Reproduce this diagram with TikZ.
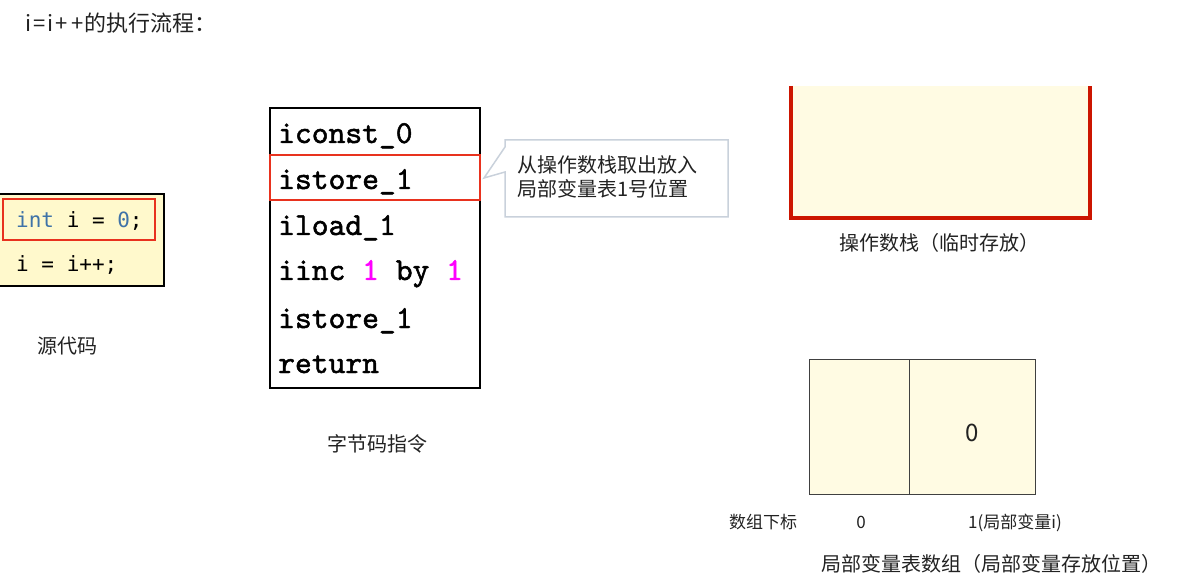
\documentclass[tikz,border=0pt]{standalone}
\usepackage{fontspec}
\setmainfont{Noto Sans CJK SC}
\newfontfamily\codefont{DejaVu Sans Mono}
\newfontfamily\bytefont{lmmono10-regular.otf}[FakeBold=1.5]
\usetikzlibrary{positioning}
\definecolor{codeYellow}{HTML}{FFF9CC}
\definecolor{paleYellow}{HTML}{FFFBE3}
\definecolor{hlRed}{HTML}{E8321E}
\definecolor{stackRed}{HTML}{CC1500}
\definecolor{kwBlue}{HTML}{3F73A8}
\definecolor{numPink}{HTML}{FF00FF}
\definecolor{noteGray}{HTML}{C9D1DB}
\definecolor{cellGray}{HTML}{404040}
\definecolor{textInk}{HTML}{222222}

\begin{document}
\begin{tikzpicture}[x=1pt,y=-1pt,
  lbl/.style={anchor=base,inner sep=0pt,text=textInk,font=\fontsize{20}{24}\selectfont},
  bc/.style={anchor=base west,inner sep=0pt,font=\bytefont\fontsize{32}{36}\selectfont},
  src/.style={anchor=base west,inner sep=0pt,font=\codefont\fontsize{21}{24}\selectfont},
  hl/.style={draw=hlRed,line width=1.8pt,inner sep=0pt},
  cell/.style={draw=cellGray,fill=paleYellow,line width=0.9pt,inner sep=0pt,minimum height=135pt}
]
  \useasboundingbox (0,0) rectangle (1178,585);

  \node[anchor=base west,inner sep=0pt,text=textInk,font=\fontsize{22}{26}\selectfont] (title) at (25,32)
    {i\hspace{2pt}=\hspace{2pt}i\hspace{2pt}+\hspace{4pt}+\hspace{1pt}的执行流程：};

  % source code
  \node[draw=black,fill=codeYellow,line width=1.2pt,minimum width=167pt,minimum height=92pt,inner sep=0pt] (srcbox) at (80.5,240) {};
  \node[hl,minimum width=152pt,minimum height=41pt] (srcmark) at (79,219.5) {};
  \node[src] (line1) at (16,228) {\textcolor{kwBlue}{int} i = \textcolor{kwBlue}{0};};
  \node[src] (line2) at (16,272) {i = i++;};
  \node[lbl] (srclbl) at (67,353) {源代码};

  % bytecode
  \node[draw=black,line width=1.2pt,minimum width=210pt,minimum height=280pt,inner sep=0pt] (bcbox) at (375,248) {};
  \node[hl,minimum width=210pt,minimum height=45pt] (istore) at (375,177.5) {};
  \node[bc] (op1) at (278,143) {iconst\_0};
  \node[bc] (op2) at (278,189) {istore\_1};
  \node[bc] (op3) at (278,235) {iload\_1};
  \node[bc] (op4) at (278,280) {iinc \textcolor{numPink}{1} by \textcolor{numPink}{1}};
  \node[bc] (op5) at (278,328) {istore\_1};
  \node[bc] (op6) at (278,373) {return};
  \node[lbl] (bclbl) at (377,451) {字节码指令};

  % note
  \coordinate (tip) at (484,178);
  \draw[draw=noteGray,fill=white,line width=1.5pt] (505,140) -- (728,140) -- (728,217) -- (505,217) -- (505,172) -- (tip) -- (505,147) -- cycle;
  \node[lbl,anchor=base west] (note1) at (517,173) {从操作数栈取出放入};
  \node[lbl,anchor=base west] (note2) at (517,197) {局部变量表1号位置};

  % operand stack
  \fill[paleYellow] (791,86) rectangle (1090,218);
  \draw[stackRed,line width=3.5pt] (791,86) -- (791,218) -- (1090,218) -- (1090,86);
  \node[lbl] (stacklbl) at (939,251) {操作数栈（临时存放）};

  % local variable table
  \node[cell,minimum width=100pt] (cell0) at (859,426.5) {};
  \node[cell,minimum width=126pt] (cell1) at (972,426.5) {};
  \node[lbl,font=\fontsize{24}{28}\selectfont] (val1) at (972,441) {0};
  \node[lbl,font=\fontsize{17}{20}\selectfont] (idxlbl) at (763,528) {数组下标};
  \node[lbl,font=\fontsize{17}{20}\selectfont] (idx0) at (861,528) {0};
  \node[lbl,font=\fontsize{17}{20}\selectfont] (idx1) at (1015,528) {1(局部变量i)};
  \node[lbl] (tbllbl) at (991,571) {局部变量表数组（局部变量存放位置）};
\end{tikzpicture}
\end{document}
